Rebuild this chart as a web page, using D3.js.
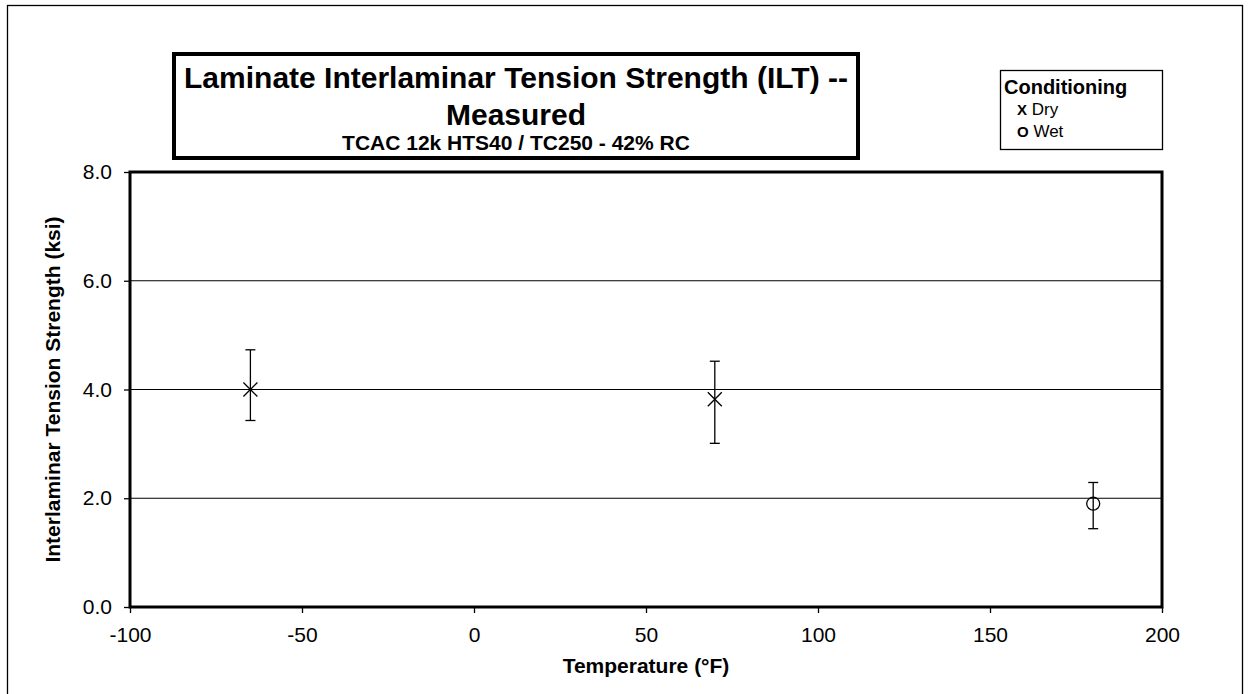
<!DOCTYPE html>
<html><head><meta charset="utf-8">
<script src="https://cdn.jsdelivr.net/npm/d3@7"></script>
<style>body{margin:0;background:#fff}svg{display:block}text{font-family:"Liberation Sans",Arial,sans-serif;fill:#000}</style>
</head><body>
<svg id="c" width="1249" height="694"></svg>
<script>
const temps = [-65, 70, 180];
const condition = ["Dry", "Dry", "Wet"];
const meanVals = [4.00, 3.82, 1.90];
const maxVals = [4.73, 4.52, 2.29];
const minVals = [3.43, 3.01, 1.44];
const xTicks = [-100, -50, 0, 50, 100, 150, 200];
const yTicks = [0, 2, 4, 6, 8];
const legendItems = [["X", "Dry"], ["O", "Wet"]];

const svg = d3.select("#c");
const L = 130, R = 1162, T = 172, B = 607;
const x = d3.scaleLinear().domain([-100, 200]).range([L, R]);
const y = d3.scaleLinear().domain([0, 8]).range([B, T]);

// outer frame
svg.append("rect").attr("x", 7.5).attr("y", 5.5).attr("width", 1235).attr("height", 700)
  .attr("fill", "none").attr("stroke", "#000").attr("stroke-width", 1.3);

// gridlines
svg.append("g").selectAll("line").data(yTicks.filter(d => d > 0 && d < 8)).join("line")
  .attr("x1", L).attr("x2", R).attr("y1", d => y(d)).attr("y2", d => y(d))
  .attr("stroke", "#000").attr("stroke-width", 1);

// axes
const yAxis = svg.append("g").attr("transform", `translate(${L},0)`)
  .call(d3.axisLeft(y).tickValues(yTicks).tickFormat(d => d.toFixed(1)).tickSize(6).tickPadding(12));
const xAxis = svg.append("g").attr("transform", `translate(0,${B})`)
  .call(d3.axisBottom(x).tickValues(xTicks).tickFormat(d => String(d)).tickSize(6).tickPadding(14));
[yAxis, xAxis].forEach(g => {
  g.select(".domain").remove();
  g.selectAll("line").attr("stroke", "#000").attr("stroke-width", 1.3);
  g.selectAll("text").attr("font-size", 21).attr("fill", "#000")
    .style("font-family", '"Liberation Sans", Arial, sans-serif');
});

// plot border
svg.append("rect").attr("x", L).attr("y", T).attr("width", R - L).attr("height", B - T)
  .attr("fill", "none").attr("stroke", "#000").attr("stroke-width", 3);

// error bars
const eb = svg.append("g").attr("stroke", "#000").attr("stroke-width", 1.3);
temps.forEach((t, i) => {
  const cx = x(t);
  eb.append("line").attr("x1", cx).attr("x2", cx).attr("y1", y(maxVals[i])).attr("y2", y(minVals[i]));
  eb.append("line").attr("x1", cx - 5).attr("x2", cx + 5).attr("y1", y(maxVals[i])).attr("y2", y(maxVals[i]));
  eb.append("line").attr("x1", cx - 5).attr("x2", cx + 5).attr("y1", y(minVals[i])).attr("y2", y(minVals[i]));
});

// markers
const mk = svg.append("g");
temps.forEach((t, i) => {
  const cx = x(t), cy = y(meanVals[i]);
  if (condition[i] === "Dry") {
    const s = 7;
    mk.append("path").attr("d", `M${cx - s},${cy - s}L${cx + s},${cy + s}M${cx - s},${cy + s}L${cx + s},${cy - s}`)
      .attr("stroke", "#000").attr("stroke-width", 1.3).attr("fill", "none");
  } else {
    mk.append("circle").attr("cx", cx).attr("cy", cy).attr("r", 6.5)
      .attr("stroke", "#000").attr("stroke-width", 1.3).attr("fill", "none");
  }
});

// axis titles
svg.append("text").attr("x", (L + R) / 2).attr("y", 673).attr("text-anchor", "middle")
  .attr("font-size", 21).attr("font-weight", "bold").text("Temperature (°F)");
svg.append("text").attr("transform", `translate(60,${(T + B) / 2}) rotate(-90)`).attr("text-anchor", "middle")
  .attr("font-size", 21).attr("font-weight", "bold").text("Interlaminar Tension Strength (ksi)");

// title box
svg.append("rect").attr("x", 174).attr("y", 54).attr("width", 684).attr("height", 104)
  .attr("fill", "#fff").attr("stroke", "#000").attr("stroke-width", 4);
svg.append("text").attr("x", 516).attr("y", 88).attr("text-anchor", "middle")
  .attr("font-size", 30).attr("font-weight", "bold").text("Laminate Interlaminar Tension Strength (ILT) --");
svg.append("text").attr("x", 516).attr("y", 125).attr("text-anchor", "middle")
  .attr("font-size", 30).attr("font-weight", "bold").text("Measured");
svg.append("text").attr("x", 516).attr("y", 150).attr("text-anchor", "middle")
  .attr("font-size", 21).attr("font-weight", "bold").text("TCAC 12k HTS40 / TC250 - 42% RC");

// legend
svg.append("rect").attr("x", 1000.5).attr("y", 70.5).attr("width", 162).attr("height", 79)
  .attr("fill", "#fff").attr("stroke", "#000").attr("stroke-width", 1.3);
svg.append("text").attr("x", 1004).attr("y", 94).attr("font-size", 20).attr("font-weight", "bold").text("Conditioning");
legendItems.forEach((d, i) => {
  const t = svg.append("text").attr("x", 1017).attr("y", 115 + i * 22).attr("font-size", 17);
  t.append("tspan").attr("font-weight", "bold").attr("font-size", 15).text(d[0]);
  t.append("tspan").text(" " + d[1]);
});
</script>
</body></html>
